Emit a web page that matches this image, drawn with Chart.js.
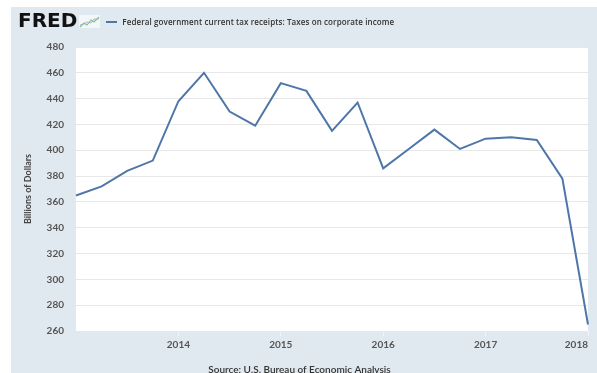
<!DOCTYPE html>
<html>
<head>
<meta charset="utf-8">
<script src="https://cdn.jsdelivr.net/npm/chart.js@4.4.1/dist/chart.umd.min.js"></script>
<style>
  html, body { margin: 0; padding: 0; background: #fff; width: 597px; height: 373px; overflow: hidden; }
  #frame { position: absolute; left: 11px; top: 7px; width: 586px; height: 370px; background: #e1e9f0; }
  #chart { position: absolute; left: 0; top: 0; }
  #head { position: absolute; left: 7px; top: 3px; height: 20px; display: flex; align-items: center; white-space: nowrap; }
  #logo { font-family: "DejaVu Sans", sans-serif; font-weight: 900; font-size: 20px; letter-spacing: 0px; color: #111; }
  #icon { margin-left: 2px; margin-top: 3px; }
  #key { display: inline-block; width: 11px; height: 2px; background: #4f76a8; margin-left: 6px; margin-top: 3px; }
  #series { margin-left: 5px; margin-top: 3px; font-family: "Open Sans", sans-serif; font-weight: 600; font-size: 8px; letter-spacing: 0.1px; color: #333; }
</style>
</head>
<body>
<div id="frame">
  <canvas id="chart" width="586" height="370"></canvas>
  <div id="head">
    <span id="logo">FRED</span>
    <svg id="icon" width="21" height="13" viewBox="0 0 21 13">
      <rect x="0" y="0" width="21" height="13" fill="#f4f7f9"/>
      <polyline points="1,12 5,8 8,10 12,5 15,7 20,2" fill="none" stroke="#8fc07a" stroke-width="1.2"/>
      <polyline points="1,10 5,9 8,7 12,8 15,4 20,4" fill="none" stroke="#9fb7cf" stroke-width="1"/>
    </svg>
    <span id="key"></span>
    <span id="series">Federal government current tax receipts: Taxes on corporate income</span>
  </div>
</div>
<script>
// Quarterly observations, billions of dollars (SAAR)
const quarters = [
  '2013-01-01', '2013-04-01', '2013-07-01', '2013-10-01',
  '2014-01-01', '2014-04-01', '2014-07-01', '2014-10-01',
  '2015-01-01', '2015-04-01', '2015-07-01', '2015-10-01',
  '2016-01-01', '2016-04-01', '2016-07-01', '2016-10-01',
  '2017-01-01', '2017-04-01', '2017-07-01', '2017-10-01',
  '2018-01-01'
];
const corporateTax = [
  365, 372, 384, 392,
  438, 460, 430, 419,
  452, 446, 415, 437,
  386, 401, 416, 401,
  409, 410, 408, 378,
  265
];
const yearTicks = ['2014', '2015', '2016', '2017', '2018'];
const yMin = 260;
const yMax = 480;
const yStep = 20;

function yearLabel(index) {
    const q = quarters[index];
    const year = q.slice(0, 4);
    return q.endsWith('-01-01') && yearTicks.includes(year) ? year : '';
}

// white plotting area on the blue-gray frame
const plotBackground = {
    id: 'plotBackground',
    beforeDraw(chart) {
        const { ctx, chartArea } = chart;
        ctx.save();
        ctx.fillStyle = '#ffffff';
        ctx.fillRect(chartArea.left, chartArea.top, chartArea.right - chartArea.left, chartArea.bottom - chartArea.top);
        ctx.restore();
    }
};

new Chart(document.getElementById('chart'), {
    type: 'line',
    data: {
        labels: quarters,
        datasets: [{
            label: 'Federal government current tax receipts: Taxes on corporate income',
            data: corporateTax,
            borderColor: '#4f76a8',
            borderWidth: 2,
            pointRadius: 0,
            tension: 0,
            fill: false
        }]
    },
    options: {
        responsive: false,
        animation: false,
        layout: {
            padding: { top: 40, right: 9, left: 0, bottom: 0 }
        },
        plugins: {
            legend: { display: false },
            tooltip: { enabled: false },
            title: {
                display: true,
                position: 'bottom',
                text: 'Source: U.S. Bureau of Economic Analysis',
                color: '#333',
                font: { family: 'Lato', size: 10, weight: '600' },
                padding: { top: 10, bottom: 1 }
            }
        },
        scales: {
            x: {
                border: { display: false },
                grid: {
                    drawOnChartArea: false,
                    tickLength: 5,
                    tickColor: ctx => (ctx.index > 0 && ctx.index % 4 === 0) ? '#f3f6f9' : 'rgba(0,0,0,0)'
                },
                ticks: {
                    autoSkip: false,
                    maxRotation: 0,
                    align: 'inner',
                    padding: 3,
                    color: '#555',
                    font: { family: 'Lato', size: 10, weight: 'bold' },
                    callback: (value, index) => yearLabel(index)
                }
            },
            y: {
                min: yMin,
                max: yMax,
                border: { display: false },
                grid: { color: '#e8e8e8', drawTicks: false },
                ticks: {
                    stepSize: yStep,
                    padding: 12,
                    color: '#555',
                    font: { family: 'Lato', size: 10, weight: 'bold' }
                },
                title: {
                    display: true,
                    text: 'Billions of Dollars',
                    color: '#444',
                    font: { family: 'Lato', size: 9, weight: 'bold' },
                    padding: { top: 12, bottom: 4 }
                },
                afterFit(scale) {
                    scale.width = 65;
                }
            }
        }
    },
    plugins: [plotBackground]
});
</script>
</body>
</html>
